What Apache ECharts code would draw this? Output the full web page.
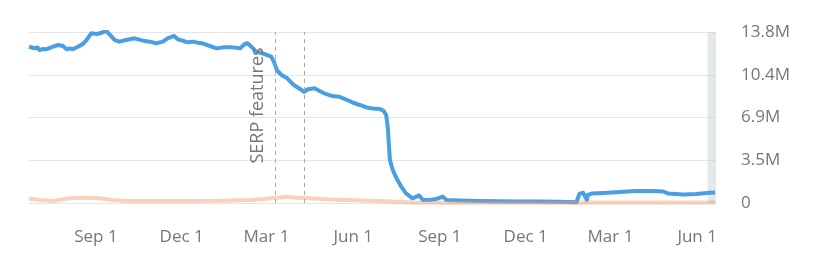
<!DOCTYPE html>
<html><head><meta charset="utf-8">
<script src="https://cdn.jsdelivr.net/npm/echarts@6/dist/echarts.min.js"></script>
<style>html,body{margin:0;padding:0;background:#fff}#c{width:830px;height:273px}</style>
</head><body><div id="c"></div>
<script>
// ---- data ----
const xMin = '2017-06-22';
const xMax = '2019-06-21';
const xTickDates = ['2017-09-01','2017-12-01','2018-03-01','2018-06-01','2018-09-01','2018-12-01','2019-03-01','2019-06-01'];
const xTickLabels = ['Sep 1','Dec 1','Mar 1','Jun 1','Sep 1','Dec 1','Mar 1','Jun 1'];
const yTickLabels = ['0','3.5M','6.9M','10.4M','13.8M'];
const yMax = 13.8;
const yStep = 3.45;

const blueDates = ['2017-06-22','2017-06-25','2017-06-28','2017-07-01','2017-07-03','2017-07-07','2017-07-10','2017-07-14','2017-07-17','2017-07-23','2017-07-28','2017-08-01','2017-08-04','2017-08-08','2017-08-13','2017-08-18','2017-08-22','2017-08-27','2017-09-02','2017-09-07','2017-09-12','2017-09-16','2017-09-21','2017-09-26','2017-10-03','2017-10-12','2017-10-21','2017-10-28','2017-11-04','2017-11-11','2017-11-16','2017-11-23','2017-11-27','2017-12-02','2017-12-07','2017-12-13','2017-12-18','2017-12-23','2017-12-31','2018-01-07','2018-01-14','2018-01-24','2018-02-01','2018-02-06','2018-02-09','2018-02-13','2018-02-18','2018-02-25','2018-03-06','2018-03-09','2018-03-12','2018-03-17','2018-03-23','2018-03-30','2018-04-06','2018-04-10','2018-04-14','2018-04-21','2018-04-28','2018-05-03','2018-05-10','2018-05-17','2018-05-24','2018-06-01','2018-06-08','2018-06-15','2018-06-22','2018-06-29','2018-07-03','2018-07-06','2018-07-08','2018-07-09','2018-07-10','2018-07-13','2018-07-17','2018-07-22','2018-07-27','2018-08-03','2018-08-10','2018-08-14','2018-08-21','2018-08-28','2018-09-04','2018-09-08','2018-09-22','2018-10-13','2018-11-03','2018-11-24','2018-12-16','2019-01-06','2019-01-24','2019-01-27','2019-01-31','2019-02-04','2019-02-05','2019-02-10','2019-02-21','2019-03-11','2019-03-28','2019-04-15','2019-04-26','2019-05-01','2019-05-17','2019-05-31','2019-06-14','2019-06-20'];
const blueValues = [12.61,12.55,12.48,12.55,12.35,12.43,12.40,12.51,12.61,12.75,12.67,12.40,12.47,12.43,12.61,12.83,13.15,13.69,13.64,13.74,13.88,13.56,13.15,13.02,13.15,13.29,13.10,13.02,12.89,13.02,13.29,13.48,13.21,13.10,12.97,13.02,12.94,12.89,12.67,12.48,12.56,12.56,12.48,12.83,12.89,12.61,12.21,12.08,11.81,11.40,10.73,10.33,10.06,9.52,9.18,8.98,9.18,9.26,8.98,8.80,8.63,8.58,8.37,8.09,7.91,7.71,7.63,7.59,7.46,7.10,5.89,4.54,3.47,2.66,1.99,1.32,0.78,0.38,0.61,0.24,0.24,0.32,0.52,0.24,0.20,0.16,0.14,0.12,0.12,0.10,0.06,0.73,0.83,0.24,0.65,0.77,0.81,0.89,0.97,0.97,0.93,0.77,0.69,0.73,0.83,0.85];

const orangeDates = ['2017-06-22','2017-07-03','2017-07-17','2017-08-04','2017-08-22','2017-09-05','2017-09-18','2017-10-03','2017-10-31','2017-12-05','2018-01-09','2018-02-13','2018-02-25','2018-03-12','2018-03-23','2018-04-02','2018-04-16','2018-05-07','2018-05-25','2018-06-29','2018-08-03','2018-09-10','2018-12-01','2019-01-25','2019-02-05','2019-04-15','2019-06-20'];
const orangeValues = [0.36,0.24,0.16,0.38,0.43,0.38,0.24,0.16,0.16,0.16,0.19,0.24,0.32,0.43,0.51,0.43,0.38,0.28,0.24,0.16,0.04,0.02,0.02,0.02,0.04,0.05,0.05];

const eventDates = ['2018-03-10','2018-04-10'];
const eventLabels = ['SERP features',''];
const shadeDates = ['2019-06-12','2019-06-21'];

// ---- build ----
function ts(s){const p=s.split('-').map(Number);return new Date(p[0],p[1]-1,p[2]).getTime();}
const xTickTs = xTickDates.map(ts);
const blueData = blueDates.map((d,i)=>[ts(d), blueValues[i]]);
const orangeData = orangeDates.map((d,i)=>[ts(d), orangeValues[i]]);
const font = '"Open Sans", sans-serif';

const chart = echarts.init(document.getElementById('c'), null, {renderer:'canvas'});
chart.setOption({
  animation:false,
  grid:{left:29, right:114, top:32, bottom:70, containLabel:false},
  xAxis:{
    type:'value', min:ts(xMin), max:ts(xMax),
    axisLine:{show:false}, axisTick:{show:false}, splitLine:{show:false},
    axisLabel:{
      customValues:xTickTs, margin:26, color:'#777', fontSize:17, fontFamily:font,
      formatter:function(v){const i=xTickTs.indexOf(v);return i>=0?xTickLabels[i]:'';}
    }
  },
  yAxis:{
    type:'value', position:'right', min:0, max:yMax, interval:yStep,
    axisLine:{show:false}, axisTick:{show:false},
    splitLine:{lineStyle:{color:'#e3e5ea', width:1}},
    axisLabel:{margin:25, color:'#777', fontSize:17, fontFamily:font,
      formatter:function(v){return yTickLabels[Math.round(v/yStep)];}}
  },
  series:[
    {
      type:'line', data:blueData, showSymbol:false, symbol:'none', z:2,
      lineStyle:{color:'#4a9fe2', width:4, join:'round'},
      markLine:{
        silent:true, symbol:['none','none'],
        lineStyle:{color:'#a8a8a8', type:[4,4], width:1},
        data:eventDates.map((d,i)=>({xAxis:ts(d),
          label:{show:!!eventLabels[i], formatter:eventLabels[i], position:'insideMiddleTop',
                 color:'#777', fontSize:18, fontFamily:font, distance:6, offset:[6,-8]}}))
      },
      markArea:{
        silent:true,
        itemStyle:{color:'rgba(205,213,218,0.55)'},
        data:[[{xAxis:ts(shadeDates[0])},{xAxis:ts(shadeDates[1])}]]
      }
    },
    {
      type:'line', data:orangeData, showSymbol:false, symbol:'none', z:3,
      lineStyle:{color:'#f39a6e', width:4, opacity:0.45}
    }
  ]
});
</script>
</body></html>
